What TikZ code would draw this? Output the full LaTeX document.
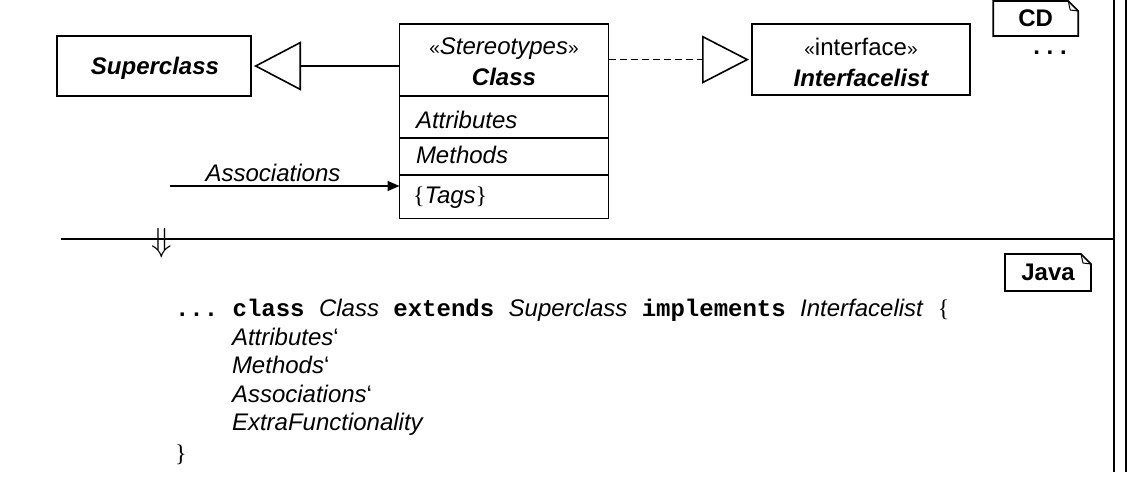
\documentclass[tikz,border=0pt]{standalone}
\usepackage{fontspec}
\setmainfont{Liberation Sans}
\setmonofont{Liberation Mono}
\newfontfamily\bracefont{Liberation Serif}
\usetikzlibrary{arrows.meta}
\tikzset{
  every node/.style={inner sep=0pt, outer sep=0pt, font=\fontsize{24}{28}\selectfont},
  box/.style={draw, line width=1.6pt},
  tagbox/.style={font=\fontsize{24}{28}\selectfont\bfseries},
  line/.style={line width=1.6pt},
  gen/.style={line, -{Triangle[open, length=47pt, width=49pt, line width=1.6pt]}},
  real/.style={line, dash pattern=on 7pt off 4pt, -{Triangle[open, length=47pt, width=48pt, line width=1.6pt]}},
  assoc/.style={line, -{Triangle[length=12pt, width=10pt]}},
  codeln/.style={anchor=base west},
}
\newcommand{\gq}[1]{{\fontsize{19}{22}\selectfont #1}}
\begin{document}
\begin{tikzpicture}[x=1pt, y=-1pt]
\useasboundingbox[fill=white] (0,0) rectangle (1130,500);

% Superclass
\node[box, minimum width=194pt, minimum height=60pt] (sup) at (154,66) {};
\node[anchor=base] (suptxt) at (155,74.5) {\bfseries\itshape Superclass};

% Class box
\node[box, minimum width=209pt, minimum height=194pt] (cls) at (504,121.3) {};
\draw[line] (cls.west |- 0,96) -- (cls.east |- 0,96);
\draw[line] (cls.west |- 0,138) -- (cls.east |- 0,138);
\draw[line] (cls.west |- 0,175) -- (cls.east |- 0,175);
\node[anchor=base] (st) at (504,55) {\gq{«}\textit{Stereotypes}\gq{»}};
\node[anchor=base] (cn) at (504,85.5) {\bfseries\itshape Class};
\node[anchor=base west] (att) at (416,129) {\itshape Attributes};
\node[anchor=base west] (meth) at (416,164) {\itshape Methods};
\node[anchor=base west] (tags) at (413,204) {{\bracefont\{}\textit{Tags}{\bracefont\}}};

% Interface box
\node[box, minimum width=218pt, minimum height=71pt] (iface) at (861,59.6) {};
\node[anchor=base] (itst) at (861,55.5) {\gq{«}interface\gq{»}};
\node[anchor=base] (itn) at (861,86.5) {\bfseries\itshape Interfacelist};

% connectors
\draw[gen] (sup.east -| cls.west) -- ([xshift=3pt]sup.east);
\draw[real] (iface.west -| cls.east) -- ([xshift=-3pt]iface.west);
\coordinate (as0) at (170,186);
\draw[assoc] (as0) -- (as0 -| cls.west);
\node[anchor=base] (aslbl) at (273,181.5) {\itshape Associations};

% CD tag
\node[tagbox, minimum width=85pt, minimum height=35pt] (cd) at (1035.7,18.5) {CD};
\draw[line] (cd.south west) -- (cd.north west) -- ([xshift=-10pt]cd.north east)
  -- ([yshift=-10pt]cd.north east) -- (cd.south east) -- cycle;
\draw[line width=1pt] ([xshift=-10pt]cd.north east) -- ++(2,9) -- ([yshift=-10pt]cd.north east);
\node[anchor=base] (dots) at (1050,55) {\bfseries .\ .\ .};

% frame lines
\draw[line] (1114,0) -- (1114,472);
\draw[line] (1126,0) -- (1126,472);
\draw[line] (60.7,239) -- (1114,239);
\node (down) at (162,243) {\scalebox{1.35}{$\Downarrow$}};

% Java tag
\node[tagbox, minimum width=86pt, minimum height=37pt] (java) at (1048,272.5) {Java};
\draw[line] (java.south west) -- (java.north west) -- ([xshift=-10pt]java.north east)
  -- ([yshift=-10pt]java.north east) -- (java.south east) -- cycle;
\draw[line width=1pt] ([xshift=-10pt]java.north east) -- ++(2,9) -- ([yshift=-10pt]java.north east);

% code
\node[codeln] (l1) at (175,316) {{\ttfamily\bfseries ... class }\textit{Class}{\ttfamily\bfseries{} extends }\textit{Superclass}{\ttfamily\bfseries{} implements }\textit{Interfacelist}\hspace{14pt}{\bracefont\{}};
\node[codeln] (l2) at (232,345) {\textit{Attributes}‘};
\node[codeln] (l3) at (232,373.5) {\textit{Methods}‘};
\node[codeln] (l4) at (232,402) {\textit{Associations}‘};
\node[codeln] (l5) at (232,430.5) {\textit{ExtraFunctionality}};
\node[codeln] (l6) at (175,461) {\bracefont\}};
\end{tikzpicture}
\end{document}
